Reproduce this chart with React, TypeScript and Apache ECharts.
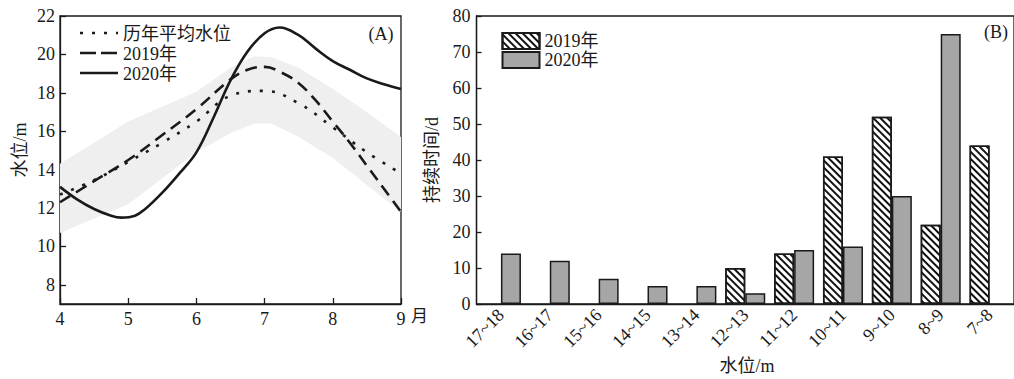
import React, { useEffect, useRef } from "react";
import * as echarts from "echarts";

// ---------- Data: chart (A) ----------
const avgMonths = [4, 4.5, 5, 5.5, 6, 6.5, 7, 7.5, 8, 8.5, 9];
const avgLevel = [12.7, 13.45, 14.4, 15.4, 16.5, 17.85, 18.1, 17.45, 16.2, 14.9, 13.8];

const months2019 = [4, 4.5, 5, 5.5, 6, 6.5, 6.75, 7, 7.25, 7.5, 7.75, 8, 8.25, 8.5, 8.75, 9];
const level2019 = [12.3, 13.4, 14.5, 15.8, 17.15, 18.7, 19.2, 19.35, 19.05, 18.5, 17.6, 16.5, 15.4, 14.2, 13.0, 11.8];

const months2020 = [4, 4.25, 4.5, 4.75, 4.9, 5.1, 5.25, 5.5, 5.75, 6, 6.25, 6.5, 6.75, 7, 7.22, 7.5, 7.75, 8, 8.25, 8.5, 8.75, 9];
const level2020 = [13.1, 12.45, 11.95, 11.6, 11.5, 11.6, 11.95, 12.8, 13.8, 14.9, 16.7, 18.65, 20.15, 21.1, 21.4, 21.0, 20.3, 19.65, 19.2, 18.75, 18.45, 18.2];

const bandMonths = [4, 5, 6, 6.5, 6.85, 7.1, 7.5, 8, 8.5, 9];
const bandUpper = [14.3, 16.5, 18.05, 19.3, 19.9, 19.85, 19.3, 18.2, 17.0, 15.7];
const bandLower = [10.7, 12.2, 14.9, 15.9, 16.4, 16.4, 15.7, 14.6, 13.2, 11.8];

const yTicksA = [8, 10, 12, 14, 16, 18, 20, 22];
const legendA = ["历年平均水位", "2019年", "2020年"];

// ---------- Data: chart (B) ----------
const levelBins = ["17~18", "16~17", "15~16", "14~15", "13~14", "12~13", "11~12", "10~11", "9~10", "8~9", "7~8"];
const days2019 = [null, null, null, null, null, 10, 14, 41, 52, 22, 44];
const days2020 = [14, 12, 7, 5, 5, 3, 15, 16, 30, 75, null];

const FONT = "'Liberation Serif', 'Times New Roman', 'Noto Sans CJK SC', serif";
const INK = "#1a1a1a";

const dashAvg = [3, 9];
const dash2019 = [12, 7];

function leftOption(): any {
  const axisLine = { lineStyle: { color: INK, width: 1.3 } };
  const legendDashes = [dashAvg, [16, 5], null];
  const legendGraphics: any[] = [];
  legendA.forEach((name, i) => {
    const y = 33 + i * 20;
    legendGraphics.push({
      type: "line", shape: { x1: 80, y1: y, x2: 118, y2: y },
      style: { stroke: INK, lineWidth: 2.6, lineDash: legendDashes[i] || undefined },
    });
    legendGraphics.push({
      type: "text", x: 123, y: y + 1,
      style: { text: name, font: `18px ${FONT}`, fill: INK, align: "left", verticalAlign: "middle" },
    });
  });
  return {
    animation: false,
    textStyle: { fontFamily: FONT, color: INK },
    grid: {
      left: 60, top: 16, width: 341, height: 288,
      show: true, borderColor: INK, borderWidth: 1.3, backgroundColor: "transparent",
    },
    xAxis: {
      type: "value", min: 4, max: 9, interval: 1,
      axisLine,
      axisTick: { inside: true, length: 6, lineStyle: { color: INK, width: 1.3 } },
      axisLabel: { fontSize: 18, color: INK, margin: 6, fontFamily: FONT },
      splitLine: { show: false },
    },
    yAxis: {
      type: "value", min: 7, max: 22,
      axisLine: { show: true, ...axisLine },
      axisTick: { show: true, inside: true, length: 6, customValues: yTicksA, lineStyle: { color: INK, width: 1.3 } },
      axisLabel: { fontSize: 18, color: INK, margin: 5, customValues: yTicksA, fontFamily: FONT },
      splitLine: { show: false },
    },
    graphic: [
      ...legendGraphics,
      { type: "text", x: 381, y: 34, style: { text: "(A)", font: `18px ${FONT}`, fill: INK, align: "center", verticalAlign: "middle" } },
      { type: "text", x: 411, y: 316, style: { text: "月", font: `17px ${FONT}`, fill: INK, align: "left", verticalAlign: "middle" } },
      { type: "text", x: 20, y: 150, rotation: Math.PI / 2, style: { text: "水位/m", font: `18px ${FONT}`, fill: INK, align: "center", verticalAlign: "middle" } },
    ],
    series: [
      {
        type: "custom", name: "band", silent: true, z: 1,
        coordinateSystem: "cartesian2d",
        data: [[bandMonths[0], bandLower[0]]],
        renderItem: (_params: any, api: any) => {
          const up = bandMonths.map((m, i) => api.coord([m, bandUpper[i]]));
          const lo = bandMonths.map((m, i) => api.coord([m, bandLower[i]])).reverse();
          return { type: "polygon", shape: { points: up.concat(lo) }, style: { fill: "#efefef" } };
        },
      },
      {
        type: "line", name: "历年平均水位", symbol: "none", smooth: 0.4, z: 3,
        data: avgMonths.map((m, i) => [m, avgLevel[i]]),
        lineStyle: { color: INK, width: 2.6, type: dashAvg, cap: "butt" },
      },
      {
        type: "line", name: "2019年", symbol: "none", smooth: 0.4, z: 3,
        data: months2019.map((m, i) => [m, level2019[i]]),
        lineStyle: { color: INK, width: 2.6, type: dash2019 },
      },
      {
        type: "line", name: "2020年", symbol: "none", smooth: 0.4, z: 3,
        data: months2020.map((m, i) => [m, level2020[i]]),
        lineStyle: { color: INK, width: 2.6, type: "solid" },
      },
    ],
  };
}

function rightOption(): any {
  const hatch = {
    symbol: "rect", symbolSize: 1, dashArrayX: [1, 0], dashArrayY: [1.2, 2.1],
    rotation: Math.PI / 4, color: "#111", backgroundColor: "#ffffff",
  };
  return {
    animation: false,
    textStyle: { fontFamily: FONT, color: INK },
    grid: {
      left: 476.5, top: 16, width: 542, height: 288,
      show: true, borderColor: INK, borderWidth: 1.3, backgroundColor: "transparent",
    },
    legend: {
      data: ["2019年", "2020年"],
      orient: "vertical",
      left: 496.5, top: 26.5,
      icon: "rect",
      itemWidth: 37, itemHeight: 16, itemGap: 0,
      textStyle: { fontFamily: FONT, fontSize: 18, color: INK, lineHeight: 19 },
    },
    xAxis: {
      type: "category", data: levelBins,
      axisLine: { lineStyle: { color: INK, width: 1.3 } },
      axisTick: { show: false },
      axisLabel: { interval: 0, rotate: 45, fontSize: 18, color: INK, margin: 8, fontFamily: FONT },
    },
    yAxis: {
      type: "value", min: 0, max: 80, interval: 10,
      axisLine: { show: true, lineStyle: { color: INK, width: 1.3 } },
      axisTick: { show: true, inside: true, length: 5, lineStyle: { color: INK, width: 1.3 } },
      axisLabel: { fontSize: 18, color: INK, margin: 6, fontFamily: FONT },
      splitLine: { show: false },
    },
    graphic: [
      { type: "text", x: 996, y: 32, style: { text: "(B)", font: `18px ${FONT}`, fill: INK, align: "center", verticalAlign: "middle" } },
      { type: "text", x: 432, y: 160, rotation: Math.PI / 2, style: { text: "持续时间/d", font: `18px ${FONT}`, fill: INK, align: "center", verticalAlign: "middle" } },
      { type: "text", x: 747, y: 366, style: { text: "水位/m", font: `18px ${FONT}`, fill: INK, align: "center", verticalAlign: "middle" } },
    ],
    series: [
      {
        type: "bar", name: "2019年", data: days2019, barWidth: 20, barGap: "0%",
        itemStyle: { color: "#ffffff", borderColor: INK, borderWidth: 1.5, decal: hatch },
      },
      {
        type: "bar", name: "2020年", data: days2020, barWidth: 20, barGap: "0%",
        itemStyle: { color: "#a6a6a6", borderColor: INK, borderWidth: 1.5 },
      },
    ],
  };
}

export default function App() {
  const leftRef = useRef<HTMLDivElement>(null);
  const rightRef = useRef<HTMLDivElement>(null);
  useEffect(() => {
    const a = echarts.init(leftRef.current!, null, { renderer: "svg" });
    a.setOption(leftOption());
    const b = echarts.init(rightRef.current!, null, { renderer: "svg" });
    b.setOption(rightOption());
    return () => {
      a.dispose();
      b.dispose();
    };
  }, []);
  return (
    <div style={{ position: "fixed", left: 0, top: 0, width: 1014, height: 379, background: "#fff" }}>
      <div ref={leftRef} style={{ position: "absolute", left: 0, top: 0, width: 1014, height: 379 }} />
      <div ref={rightRef} style={{ position: "absolute", left: 0, top: 0, width: 1014, height: 379 }} />
    </div>
  );
}
